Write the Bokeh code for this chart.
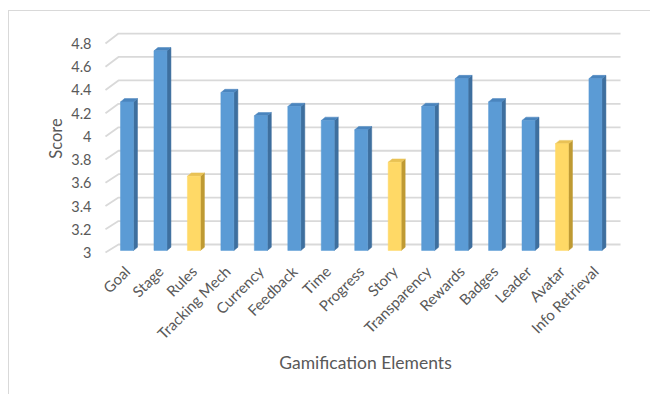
import math
from bokeh.plotting import figure
from bokeh.models import FixedTicker, NumeralTickFormatter, Range1d, InlineStyleSheet
from bokeh.embed import file_html
from bokeh.resources import INLINE

# ---- data ----
categories = ["Goal", "Stage", "Rules", "Tracking Mech", "Currency", "Feedback",
              "Time", "Progress", "Story", "Transparency", "Rewards", "Badges",
              "Leader", "Avatar", "Info Retrieval"]
scores = [4.28, 4.72, 3.64, 4.36, 4.16, 4.24, 4.12, 4.04, 3.76, 4.24,
          4.48, 4.28, 4.12, 3.92, 4.48]
highlight = ["Rules", "Story", "Avatar"]
y_ticks = [3.0, 3.2, 3.4, 3.6, 3.8, 4.0, 4.2, 4.4, 4.6, 4.8]

FONT = "Lato"
TXT = "#595959"
GRID = "#d9d9d9"

# pixel geometry helpers (px per unit)
PX_X = 33.46
PX_Y = 116.1

p = figure(width=650, height=394, output_backend="svg", toolbar_location=None,
           x_range=Range1d(-0.792, 15.048), y_range=Range1d(2.9655, 4.9982),
           min_border_left=100, min_border_right=20, min_border_top=20,
           min_border_bottom=138)
p.outline_line_color = None
p.xgrid.visible = False
p.ygrid.visible = False
p.background_fill_color = "white"
p.border_fill_color = "white"

# 3D gridlines: short diagonal at the front-left, then the back wall line
xs, ys = [], []
for t in y_ticks:
    fx = -0.643
    bx = fx + 13.0 / PX_X
    bt = 3 + 8.0 / PX_Y + (t - 3) * 1.0095
    xs.append([fx, bx, 14.75])
    ys.append([t, bt, bt])
p.multi_line(xs, ys, line_color=GRID, line_width=1.8)

# bars with depth
hw = 6.5 / PX_X
sdx = 4.0 / PX_X
sdy = 3.3 / PX_Y
b0 = 3 + 2.0 / PX_Y
front_c, side_c, top_c = [], [], []
for c in categories:
    if c in highlight:
        front_c.append("#FFD966"); side_c.append("#BF9A33"); top_c.append("#E9C255")
    else:
        front_c.append("#5B9BD5"); side_c.append("#3E6F9E"); top_c.append("#4A85BE")
idx = list(range(len(categories)))
tops = [v + 2.0 / PX_Y for v in scores]

side_xs = [[i + hw, i + hw + sdx, i + hw + sdx, i + hw] for i in idx]
side_ys = [[b0, b0 + sdy, t + sdy, t] for t in tops]
p.patches(side_xs, side_ys, fill_color=side_c, line_color=side_c, line_width=0.5)
top_xs = [[i - hw, i - hw + sdx, i + hw + sdx, i + hw] for i in idx]
top_ys = [[t, t + sdy, t + sdy, t] for t in tops]
p.patches(top_xs, top_ys, fill_color=top_c, line_color=top_c, line_width=0.5)
p.quad(left=[i - hw for i in idx], right=[i + hw for i in idx],
       bottom=[b0] * len(idx), top=tops, fill_color=front_c, line_color=front_c,
       line_width=0.5)

# axes
p.yaxis.ticker = FixedTicker(ticks=y_ticks)
p.yaxis.formatter = NumeralTickFormatter(format="0.[0]")
p.yaxis.axis_line_color = None
p.yaxis.major_tick_line_color = None
p.yaxis.minor_tick_line_color = None
p.yaxis.major_label_standoff = 3
p.yaxis.major_label_text_font = FONT
p.yaxis.major_label_text_font_size = "14.5px"
p.yaxis.major_label_text_color = TXT
p.yaxis.axis_label = "Score"
p.yaxis.axis_label_text_font = FONT
p.yaxis.axis_label_text_font_size = "16.5px"
p.yaxis.axis_label_text_font_style = "normal"
p.yaxis.axis_label_text_color = TXT
p.yaxis.axis_label_standoff = 2

p.xaxis.ticker = FixedTicker(ticks=idx)
p.xaxis.major_label_overrides = {i: c for i, c in zip(idx, categories)}
p.xaxis.major_label_orientation = math.pi / 4
p.xaxis.axis_line_color = None
p.xaxis.major_tick_line_color = None
p.xaxis.minor_tick_line_color = None
p.xaxis.major_label_standoff = 6
p.xaxis.major_label_text_font = FONT
p.xaxis.major_label_text_font_size = "15px"
p.xaxis.major_label_text_color = TXT
p.xaxis.axis_label = "Gamification Elements"
p.xaxis.axis_label_text_font = FONT
p.xaxis.axis_label_text_font_size = "17.5px"
p.xaxis.axis_label_text_font_style = "normal"
p.xaxis.axis_label_text_color = TXT
p.xaxis.axis_label_standoff = 0

# chart border (left and top edges of the chart frame)
p.stylesheets = [InlineStyleSheet(css="""
:host::after {
  content: "";
  position: absolute;
  left: 8px; top: 10px; width: 700px; height: 500px;
  border-left: 1.5px solid #d9d9d9;
  border-top: 1.5px solid #d9d9d9;
  pointer-events: none;
  z-index: 10;
}
""")]

open("out.html", "w").write(file_html(p, INLINE))
